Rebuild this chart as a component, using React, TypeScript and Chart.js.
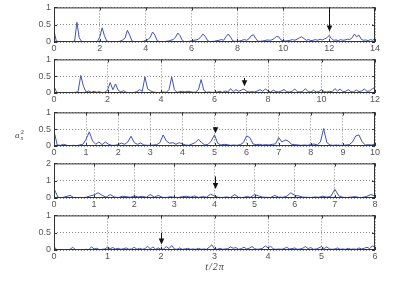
import React, { useEffect, useRef } from "react";
import { Chart, registerables } from "chart.js";
Chart.register(...registerables);

// ---- data ----
const xMax = [14, 12, 10, 8, 6];
const xTickStep = [2, 2, 1, 1, 1];
const yMax = [1, 1, 1, 2, 1];
const yTickStep = [0.5, 0.5, 0.5, 1, 0.5];
const sampleStep = [0.1, 0.1, 0.1, 0.1, 0.05];
const arrowX = [12, 7.1, 5, 4, 2];
const arrowFrom = [1.0, 0.45, 0.56, 1.25, 0.5];
const arrowTo = [0.3, 0.2, 0.38, 0.52, 0.16];

const s1 = [
  0.32, 0.03, 0.01, 0.01, 0.01, 0.01, 0.01, 0.01, 0.01, 0.03,
  0.57, 0.12, 0.02, 0.01, 0.01, 0.01, 0.01, 0.01, 0.01, 0.02,
  0.15, 0.41, 0.18, 0.03, 0.01, 0.01, 0.01, 0.01, 0.01, 0.03,
  0.06, 0.12, 0.34, 0.2, 0.03, 0.01, 0.01, 0.01, 0.01, 0.02,
  0.05, 0.07, 0.14, 0.29, 0.2, 0.04, 0.01, 0.01, 0.01, 0.02,
  0.03, 0.05, 0.07, 0.14, 0.26, 0.18, 0.04, 0.01, 0.01, 0.02,
  0.03, 0.05, 0.06, 0.08, 0.15, 0.23, 0.16, 0.04, 0.01, 0.02,
  0.02, 0.04, 0.05, 0.07, 0.05, 0.15, 0.23, 0.14, 0.03, 0.02,
  0.02, 0.03, 0.05, 0.07, 0.05, 0.09, 0.18, 0.21, 0.1, 0.02,
  0.02, 0.03, 0.04, 0.06, 0.05, 0.06, 0.1, 0.16, 0.15, 0.06,
  0.03, 0.03, 0.04, 0.05, 0.07, 0.05, 0.08, 0.12, 0.15, 0.1,
  0.05, 0.07, 0.04, 0.05, 0.07, 0.05, 0.08, 0.06, 0.09, 0.12,
  0.19, 0.1, 0.05, 0.06, 0.04, 0.07, 0.05, 0.06, 0.08, 0.07,
  0.12, 0.23, 0.15, 0.2, 0.08, 0.05, 0.06, 0.04, 0.07, 0.05,
  0.1,
];

const s2 = [
  0.2, 0.02, 0.01, 0.01, 0.01, 0.01, 0.01, 0.01, 0.02, 0.04,
  0.52, 0.2, 0.03, 0.06, 0.02, 0.05, 0.02, 0.04, 0.01, 0.02,
  0.08, 0.31, 0.1, 0.27, 0.08, 0.03, 0.07, 0.02, 0.01, 0.01,
  0.02, 0.04, 0.1, 0.05, 0.48, 0.12, 0.07, 0.03, 0.02, 0.01,
  0.02, 0.03, 0.02, 0.1, 0.48, 0.1, 0.02, 0.04, 0.05, 0.03,
  0.05, 0.04, 0.02, 0.03, 0.1, 0.4, 0.08, 0.02, 0.03, 0.02,
  0.02, 0.03, 0.05, 0.02, 0.06, 0.03, 0.13, 0.04, 0.1, 0.05,
  0.08, 0.12, 0.05, 0.03, 0.04, 0.03, 0.06, 0.1, 0.05, 0.12,
  0.06, 0.03, 0.08, 0.04, 0.03, 0.06, 0.1, 0.04, 0.03, 0.05,
  0.12, 0.04, 0.03, 0.05, 0.13, 0.04, 0.03, 0.08, 0.03, 0.04,
  0.1, 0.04, 0.03, 0.05, 0.04, 0.13, 0.06, 0.12, 0.04, 0.05,
  0.1, 0.04, 0.03, 0.09, 0.04, 0.06, 0.12, 0.05, 0.06, 0.13,
  0.16,
];

const s3 = [
  0.45, 0.03, 0.02, 0.05, 0.02, 0.01, 0.02, 0.01, 0.03, 0.05,
  0.2, 0.42, 0.15, 0.05, 0.12, 0.04, 0.12, 0.05, 0.02, 0.02,
  0.04, 0.09, 0.05, 0.12, 0.29, 0.1, 0.05, 0.09, 0.03, 0.02,
  0.02, 0.03, 0.04, 0.1, 0.33, 0.15, 0.08, 0.1, 0.05, 0.1,
  0.06, 0.03, 0.02, 0.06, 0.1, 0.2, 0.1, 0.03, 0.05, 0.15,
  0.33, 0.08, 0.03, 0.05, 0.04, 0.02, 0.03, 0.02, 0.04, 0.1,
  0.3, 0.25, 0.06, 0.04, 0.05, 0.03, 0.04, 0.03, 0.05, 0.06,
  0.25, 0.12, 0.18, 0.15, 0.05, 0.04, 0.03, 0.02, 0.03, 0.02,
  0.04, 0.06, 0.03, 0.12, 0.52, 0.1, 0.03, 0.02, 0.03, 0.02,
  0.02, 0.03, 0.04, 0.12, 0.3, 0.33, 0.12, 0.03, 0.04, 0.03,
  0.06,
];

const s4 = [
  0.55, 0.04, 0.02, 0.08, 0.15, 0.02, 0.01, 0.02, 0.04, 0.12,
  0.18, 0.3, 0.15, 0.05, 0.2, 0.06, 0.02, 0.1, 0.08, 0.04,
  0.12, 0.06, 0.1, 0.04, 0.2, 0.05, 0.15, 0.04, 0.03, 0.08,
  0.04, 0.03, 0.08, 0.1, 0.05, 0.12, 0.03, 0.08, 0.05, 0.22,
  0.12, 0.04, 0.03, 0.06, 0.03, 0.2, 0.04, 0.03, 0.08, 0.05,
  0.2, 0.12, 0.05, 0.04, 0.03, 0.15, 0.05, 0.04, 0.1, 0.3,
  0.15, 0.12, 0.05, 0.04, 0.03, 0.06, 0.04, 0.1, 0.05, 0.1,
  0.5, 0.12, 0.04, 0.03, 0.05, 0.08, 0.03, 0.04, 0.1, 0.2,
  0.12,
];

const s5 = [
  0.1, 0.01, 0.01, 0.01, 0.01, 0.01, 0.02, 0.08, 0.01, 0.01,
  0.01, 0.01, 0.02, 0.01, 0.09, 0.03, 0.05, 0.01, 0.02, 0.03,
  0.08, 0.04, 0.07, 0.03, 0.05, 0.02, 0.04, 0.06, 0.02, 0.03,
  0.08, 0.02, 0.05, 0.02, 0.04, 0.11, 0.03, 0.09, 0.02, 0.06,
  0.02, 0.03, 0.1, 0.04, 0.13, 0.03, 0.02, 0.06, 0.02, 0.03,
  0.05, 0.02, 0.03, 0.02, 0.05, 0.02, 0.03, 0.02, 0.08, 0.15,
  0.03, 0.02, 0.05, 0.02, 0.03, 0.04, 0.09, 0.05, 0.07, 0.02,
  0.04, 0.08, 0.03, 0.05, 0.1, 0.04, 0.02, 0.03, 0.05, 0.12,
  0.06, 0.11, 0.03, 0.02, 0.03, 0.02, 0.04, 0.08, 0.03, 0.04,
  0.06, 0.02, 0.03, 0.05, 0.1, 0.04, 0.07, 0.02, 0.03, 0.06,
  0.1, 0.04, 0.09, 0.03, 0.02, 0.03, 0.06, 0.02, 0.03, 0.02,
  0.05, 0.02, 0.03, 0.02, 0.06, 0.03, 0.05, 0.08, 0.04, 0.12,
  0.08,
];

const series = [s1, s2, s3, s4, s5];

// ---- layout ----
const plotTop = [5, 57, 110, 161, 213];
const plotBottom = [42, 93, 146, 198, 250];
const PAD_TOP = 6;
const X_AXIS_H = 13;
const PLOT_LEFT = 54;
const PLOT_RIGHT_PAD = 40;
const tickFont = { family: "'Liberation Sans', Arial, sans-serif", size: 9 };
const tickColor = "#555";
const lineColor = "#4454b0";

const decor = {
  id: "decor",
  afterDatasetsDraw(chart: any, _args: any, opts: any) {
    const { ctx, chartArea: a, scales } = chart;
    const idx = opts.idx;
    ctx.save();
    ctx.strokeStyle = "#333";
    ctx.fillStyle = "#111";
    ctx.lineWidth = 1;
    ctx.strokeRect(a.left + 0.5, a.top + 0.5, a.right - a.left - 1, a.bottom - a.top - 1);
    // inner tick marks (MATLAB style)
    ctx.beginPath();
    for (const t of scales.x.ticks) {
      const px = Math.round(scales.x.getPixelForValue(t.value)) + 0.5;
      ctx.moveTo(px, a.bottom);
      ctx.lineTo(px, a.bottom - 3);
      ctx.moveTo(px, a.top);
      ctx.lineTo(px, a.top + 3);
    }
    for (const t of scales.y.ticks) {
      const py = Math.round(scales.y.getPixelForValue(t.value)) + 0.5;
      ctx.moveTo(a.left, py);
      ctx.lineTo(a.left + 3, py);
      ctx.moveTo(a.right, py);
      ctx.lineTo(a.right - 3, py);
    }
    ctx.stroke();
    // arrow
    ctx.strokeStyle = "#111";
    const ax = Math.round(scales.x.getPixelForValue(arrowX[idx])) + 0.5;
    const y0 = scales.y.getPixelForValue(arrowFrom[idx]);
    const y1 = scales.y.getPixelForValue(arrowTo[idx]);
    ctx.beginPath();
    ctx.moveTo(ax, y0);
    ctx.lineTo(ax, y1 - 4);
    ctx.stroke();
    ctx.beginPath();
    ctx.moveTo(ax - 2.8, y1 - 6);
    ctx.lineTo(ax + 2.8, y1 - 6);
    ctx.lineTo(ax, y1);
    ctx.closePath();
    ctx.fill();
    ctx.restore();
  },
};

function Panel({ idx }: { idx: number }) {
  const ref = useRef<HTMLCanvasElement>(null);
  const top = plotTop[idx] - PAD_TOP;
  const h = plotBottom[idx] - plotTop[idx] + PAD_TOP + X_AXIS_H;
  useEffect(() => {
    const step = sampleStep[idx];
    const data = series[idx].map((y, i) => ({ x: Math.round(i * step * 100) / 100, y }));
    const gridOpts = { color: "#888", lineWidth: 1, drawTicks: false };
    const chart = new Chart(ref.current as HTMLCanvasElement, {
      type: "line",
      data: {
        datasets: [
          {
            data,
            borderColor: lineColor,
            borderWidth: 1,
            pointRadius: 0,
            tension: 0,
            fill: false,
          },
        ],
      },
      options: {
        animation: false,
        responsive: false,
        maintainAspectRatio: false,
        events: [],
        layout: { padding: { left: 0, right: PLOT_RIGHT_PAD, top: PAD_TOP, bottom: 0 } },
        plugins: {
          legend: { display: false },
          tooltip: { enabled: false },
          decor: { idx },
        } as any,
        scales: {
          x: {
            type: "linear",
            min: 0,
            max: xMax[idx],
            afterFit: (s: any) => {
              s.height = X_AXIS_H;
            },
            ticks: {
              stepSize: xTickStep[idx],
              font: tickFont,
              color: tickColor,
              padding: 1,
              maxRotation: 0,
              autoSkip: false,
              callback: (v: any) => String(v),
            },
            grid: gridOpts,
            border: { display: false, dash: [1, 2] },
          },
          y: {
            type: "linear",
            min: 0,
            max: yMax[idx],
            afterFit: (s: any) => {
              s.width = PLOT_LEFT;
            },
            ticks: {
              stepSize: yTickStep[idx],
              font: tickFont,
              color: tickColor,
              padding: 3,
              callback: (v: any) => String(v),
            },
            grid: gridOpts,
            border: { display: false, dash: [1, 2] },
          },
        },
      } as any,
      plugins: [decor],
    });
    return () => chart.destroy();
  }, [idx]);
  return (
    <canvas
      ref={ref}
      width={415}
      height={h}
      style={{ position: "absolute", left: 0, top, width: 415, height: h, display: "block" }}
    />
  );
}

export default function App() {
  return (
    <div
      style={{
        position: "fixed",
        left: 0,
        top: 0,
        width: 415,
        height: 284,
        background: "#fff",
        overflow: "hidden",
      }}
    >
      {[0, 1, 2, 3, 4].map((i) => (
        <Panel key={i} idx={i} />
      ))}
      <div
        style={{
          position: "absolute",
          left: 15,
          top: 129,
          fontFamily: "'Liberation Serif', 'Times New Roman', serif",
          fontStyle: "italic",
          color: "#444",
          fontSize: 9,
          lineHeight: 1,
          display: "flex",
          alignItems: "center",
        }}
      >
        <span>a</span>
        <span style={{ display: "inline-flex", flexDirection: "column", fontSize: 7, lineHeight: 0.9, marginLeft: 1 }}>
          <span style={{ fontStyle: "normal" }}>2</span>
          <span>s</span>
        </span>
      </div>
      <div
        style={{
          position: "absolute",
          left: 195,
          top: 262,
          width: 40,
          textAlign: "center",
          fontFamily: "'Liberation Serif', 'Times New Roman', serif",
          fontStyle: "italic",
          color: "#444",
          fontSize: 10,
          letterSpacing: 1,
          lineHeight: 1,
        }}
      >
        t/2π
      </div>
    </div>
  );
}
